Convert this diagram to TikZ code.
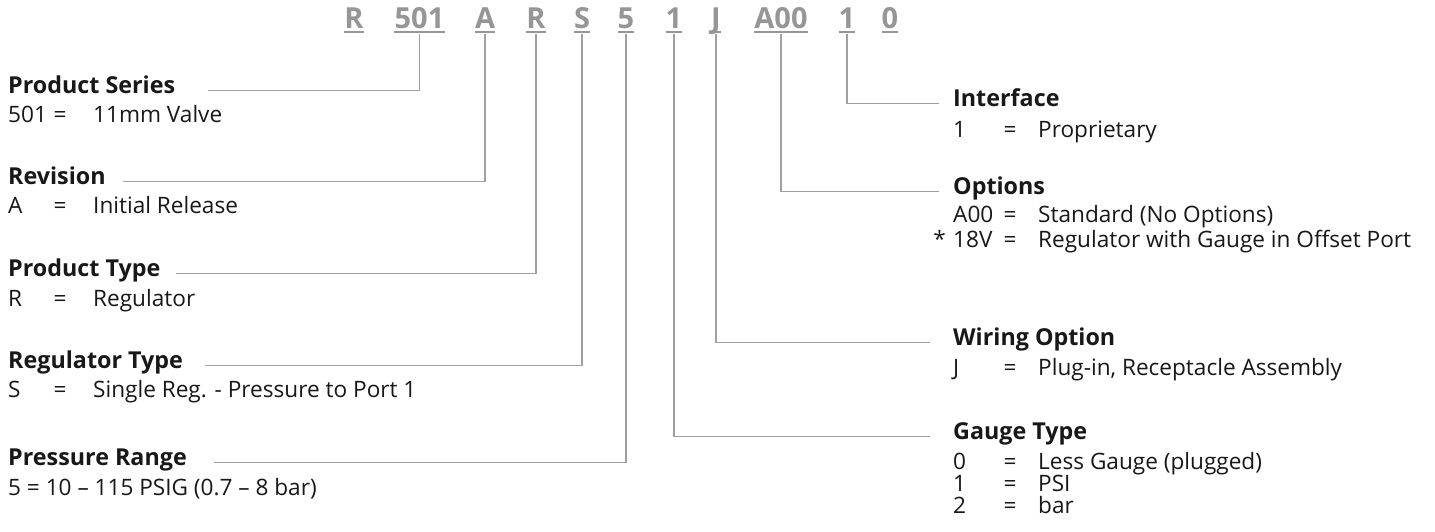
\documentclass[tikz,border=0pt]{standalone}
\usepackage{fontspec}
\setmainfont{Open Sans}
\definecolor{codegray}{RGB}{150,150,150}
\definecolor{leadgray}{RGB}{160,160,160}
\definecolor{ink}{RGB}{24,24,24}
\begin{document}
\begin{tikzpicture}[x=1pt,y=-1pt,
    code/.style={font=\fontsize{29}{32}\selectfont\bfseries,text=codegray,inner xsep=0pt,inner ysep=0pt,text height=19pt,text depth=0pt,anchor=base},
    head/.style={font=\fontsize{23.3}{27}\selectfont\bfseries,text=ink,inner sep=0pt,anchor=base west},
    entry/.style={font=\fontsize{22.6}{26}\selectfont,text=ink,inner sep=0pt,anchor=base west},
    eq/.style={entry,anchor=base},
    uline/.style={draw=codegray,line width=1.6pt},
    lead/.style={draw=leadgray,line width=1.2pt}]
    \useasboundingbox[fill=white] (0,0) rectangle (1435,531);

    % ordering code
    \node[code] at (354,28) (cR) {R};
    \node[code] at (419.5,28) (cSeries) {501};
    \node[code] at (485,28) (cRev) {A};
    \node[code] at (536,28) (cType) {R};
    \node[code] at (582,28) (cReg) {S};
    \node[code] at (626,28) (cPress) {5};
    \node[code] at (674,28) (cGauge) {1};
    \node[code] at (716,28) (cWire) {J};
    \node[code] at (781,28) (cOpt) {A00};
    \node[code] at (847,28) (cIface) {1};
    \node[code] at (890,28) (cLast) {0};
    \foreach \c in {cR,cSeries,cRev,cType,cReg,cPress,cGauge,cWire,cOpt,cIface,cLast}
        \draw[uline] ([yshift=-4pt]\c.south west) -- ([yshift=-4pt]\c.south east);

    % left column
    \node[head] at (8,93) (series) {Product Series};
    \node[head] at (8,184) (rev) {Revision};
    \node[head] at (8,276) (type) {Product Type};
    \node[head] at (8,368) (reg) {Regulator Type};
    \node[head] at (8,465) (press) {Pressure Range};
    \foreach \k/\v/\yy [count=\i] in {501/11mm Valve/122, A/Initial Release/213, R/Regulator/306, S/Single Reg. - Pressure to Port 1/397}{
        \node[entry] at (8,\yy) (lk\i) {\k};
        \node[eq] at (60,\yy) (le\i) {=};
        \node[entry] at (93,\yy) (lv\i) {\v};
    }
    \node[entry] at (8,495) (pressrow) {5 = 10 -- 115 PSIG (0.7 -- 8 bar)};

    % right column
    \node[head] at (953,106.5) (iface) {Interface};
    \node[head] at (953,194) (opt) {Options};
    \node[head] at (953,345) (wire) {Wiring Option};
    \node[head] at (953,439) (gauge) {Gauge Type};
    \foreach \k/\v/\yy [count=\i] in {1/Proprietary/137, A00/Standard (No Options)/222, 18V/Regulator with Gauge in Offset Port/247, J/{Plug-in, Receptacle Assembly}/375, 0/Less Gauge (plugged)/469, 1/PSI/491, 2/bar/513}{
        \node[entry] at (953,\yy) (rk\i) {\k};
        \node[eq] at (1010,\yy) (re\i) {=};
        \node[entry] at (1038,\yy) (rv\i) {\v};
    }
    \node[entry,anchor=base east] at (946,247) (star) {*};

    % leaders
    \draw[lead] ([yshift=-6pt]cSeries.south) |- (series.mid east -| 208,0);
    \draw[lead] ([yshift=-6pt]cRev.south) |- (rev.mid east -| 123,0);
    \draw[lead] ([yshift=-6pt]cType.south) |- (type.mid east -| 176,0);
    \draw[lead] ([yshift=-6pt]cReg.south) |- (reg.mid east -| 205,0);
    \draw[lead] ([yshift=-6pt]cPress.south) |- (press.mid east -| 214,0);
    \draw[lead] ([yshift=-6pt]cGauge.south) |- (gauge.mid west -| 930,0);
    \draw[lead] ([yshift=-6pt]cWire.south) |- (wire.mid west -| 930,0);
    \draw[lead] ([yshift=-6pt]cOpt.south) |- (opt.mid west -| 939,0);
    \draw[lead] ([yshift=-6pt]cIface.south) |- (iface.mid west -| 939,0);
\end{tikzpicture}
\end{document}
